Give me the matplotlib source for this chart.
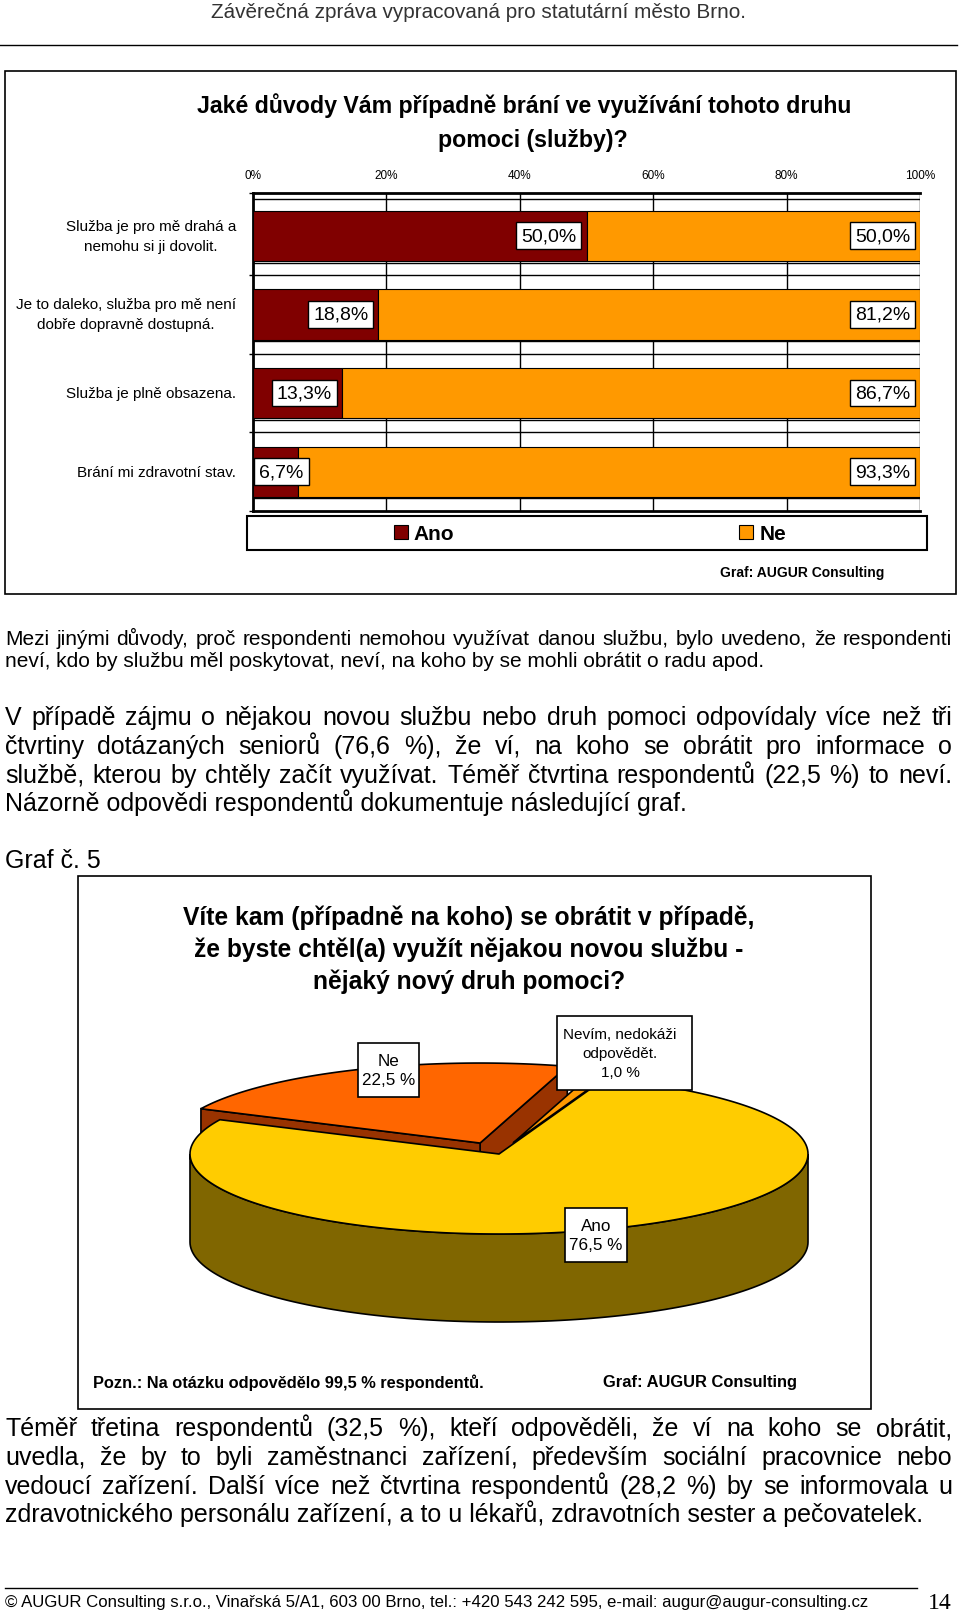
import matplotlib
matplotlib.use('Agg')  # no display, only the png

import numpy as np
import matplotlib.pyplot as plt
from matplotlib import font_manager
from matplotlib.patches import Rectangle, Polygon

installed = {f.name for f in font_manager.fontManager.ttflist}
SANS = 'Liberation Sans'
NARROW = 'Liberation Sans Narrow' if 'Liberation Sans Narrow' in installed else SANS
SERIF = 'Liberation Serif'
plt.rcParams['font.family'] = SANS

# ---- chart 1: reasons (stacked bars) ----
reasons = ["Služba je pro mě drahá a\nnemohu si ji dovolit.",
           "Je to daleko, služba pro mě není\ndobře dopravně dostupná.",
           "Služba je plně obsazena.",
           "Brání mi zdravotní stav."]
ano = [50.0, 18.8, 13.3, 6.7]
ne = [50.0, 81.2, 86.7, 93.3]
pct_ticks = [0, 20, 40, 60, 80, 100]
series = ["Ano", "Ne"]

# ---- chart 2: 3D pie (counter-clockwise order from the 70 deg cut) ----
pie_labels = ["Nevím, nedokáži\nodpovědět.", "Ne", "Ano"]
pie_values = [1.0, 22.5, 76.5]

# ---- page text ----
header = "Závěrečná zpráva vypracovaná pro statutární město Brno."
title1 = ["Jaké důvody Vám případně brání ve využívání tohoto druhu", "pomoci (služby)?"]
title2 = ["Víte kam (případně na koho) se obrátit v případě,",
          "že byste chtěl(a) využít nějakou novou službu -",
          "nějaký nový druh pomoci?"]
para1 = ["Mezi jinými důvody, proč respondenti nemohou využívat danou službu, bylo uvedeno, že respondenti",
         "neví, kdo by službu měl poskytovat, neví, na koho by se mohli obrátit o radu apod."]
para2 = ["V případě zájmu o nějakou novou službu nebo druh pomoci odpovídaly více než tři",
         "čtvrtiny dotázaných seniorů (76,6 %), že ví, na koho se obrátit pro informace o",
         "službě, kterou by chtěly začít využívat. Téměř čtvrtina respondentů (22,5 %) to neví.",
         "Názorně odpovědi respondentů dokumentuje následující graf."]
para3 = ["Téměř třetina respondentů (32,5 %), kteří odpověděli, že ví na koho se obrátit,",
         "uvedla, že by to byli zaměstnanci zařízení, především sociální pracovnice nebo",
         "vedoucí zařízení. Další více než čtvrtina respondentů (28,2 %) by se informovala u",
         "zdravotnického personálu zařízení, a to u lékařů, zdravotních sester a pečovatelek."]
note = "Pozn.: Na otázku odpovědělo 99,5 % respondentů."
source = "Graf: AUGUR Consulting"
footer = "© AUGUR Consulting s.r.o., Vinařská 5/A1, 603 00 Brno, tel.: +420 543 242 595, e-mail: augur@augur-consulting.cz"
page_no = "14"

# colours
ANO_C, NE_C = '#800000', '#FF9900'
pie_top = ['#FF9900', '#FF6600', '#FFCC00']
pie_side = ['#805000', '#993300', '#806600']
pie_explode = [0.15, 0.15, 0.0]

W, H = 960, 1615
fig = plt.figure(figsize=(W / 100, H / 100), dpi=100)
page = fig.add_axes([0, 0, 1, 1])
page.set_xlim(0, W)
page.set_ylim(H, 0)
page.axis('off')
renderer = fig.canvas.get_renderer()


def width_of(t):
    return t.get_window_extent(renderer=renderer).width


def fitted(x, y, s, width, ha='center', **kw):
    # scale font so the line gets the measured width
    t = page.text(x, y, s, fontsize=10, ha=ha, va='center', **kw)
    t.set_fontsize(10 * width / width_of(t))
    return t.get_fontsize()


def paragraph(lines, y0, step, size, x0=5, x1=952):
    # words sit on a common baseline, all lines but the last are justified
    shift = 0.33 * size * 100 / 72
    for k, line in enumerate(lines):
        y = y0 + k * step + shift
        if k == len(lines) - 1:
            page.text(x0, y, line, fontsize=size, va='baseline')
            continue
        words = line.split(' ')
        ts = [page.text(x0, y, w, fontsize=size, va='baseline') for w in words]
        ws = [width_of(t) for t in ts]
        gap = (x1 - x0 - sum(ws)) / (len(ws) - 1)
        x = x0
        for t, w in zip(ts, ws):
            t.set_x(x)
            x += w + gap


# header / footer
fitted(478, 13, header, 538, color='#333333')
page.plot([0, 957], [46, 46], color='black', lw=1)
page.plot([5, 917], [1589, 1589], color='black', lw=1)
fitted(5, 1603, footer, 862, ha='left')
page.text(940, 1604, page_no, fontsize=17, family=SERIF, ha='center', va='center')

# ---------------- chart 1 ----------------
page.add_patch(Rectangle((5, 72), 951, 523, fill=False, ec='black', lw=1.2))
s1 = fitted(524, 106, title1[0], 657, family=NARROW, weight='bold')
page.text(533, 141, title1[1], fontsize=s1, family=NARROW, weight='bold',
          ha='center', va='center')

axb = fig.add_axes([253 / W, 1 - 512 / H, 667 / W, 318 / H])
yy = np.arange(len(reasons))
axb.barh(yy, ano, height=0.64, color=ANO_C, edgecolor='black', lw=0.8, zorder=3)
axb.barh(yy, ne, left=ano, height=0.64, color=NE_C, edgecolor='black', lw=0.8, zorder=3)
axb.set_xlim(0, 100)
axb.set_ylim(3.5, -0.545)
axb.vlines(pct_ticks[1:], -0.545, 3.5, color='black', lw=1, zorder=1)
axb.hlines([-0.47, 0.34, 0.5, 1.34, 1.5, 2.34, 2.5, 3.34], 0, 100, color='black', lw=1, zorder=1)
for side in ['top', 'bottom', 'left']:
    axb.spines[side].set_linewidth(2)
axb.spines['right'].set_visible(False)
axb.xaxis.tick_top()
axb.set_xticks(pct_ticks)
axb.set_xticklabels([f"{v}%" for v in pct_ticks], fontsize=8.5)
axb.tick_params(axis='x', length=0, pad=8.5)
axb.set_yticks([-0.545, 0.5, 1.5, 2.5, 3.5])
axb.set_yticklabels([])
axb.tick_params(axis='y', direction='out', length=3, width=1)

box = dict(boxstyle='square,pad=0.25', fc='white', ec='black', lw=1)
for i, (a, n) in enumerate(zip(ano, ne)):
    axb.text(-2.55, i, reasons[i], ha='right', va='center', multialignment='center',
             fontsize=11, linespacing=1.55)
    axb.text(max(a - 1.5, 7.6), i, f"{a:.1f}%".replace('.', ','), ha='right', va='center',
             fontsize=14, bbox=box, zorder=5)
    axb.text(98.5, i, f"{n:.1f}%".replace('.', ','), ha='right', va='center',
             fontsize=14, bbox=box, zorder=5)

page.add_patch(Rectangle((247, 517), 680, 34, fill=False, ec='black', lw=1.5))
leg_size = 17 if NARROW != SANS else 15
handles = [Rectangle((0, 0), 1, 1, fc=c, ec='black', lw=0.8) for c in (ANO_C, NE_C)]
fig.legend(handles, series, loc='center', bbox_to_anchor=(590 / W, 1 - 535 / H), ncol=2,
           frameon=False, handlelength=0.65, handleheight=0.65, handletextpad=0.3,
           columnspacing=285 / (leg_size * 100 / 72),
           prop=dict(family=NARROW, weight='bold', size=leg_size))
fitted(720, 573, source, 165, ha='left', weight='bold')

# ---------------- body text ----------------
paragraph(para1, 638, 22.5, 15)
paragraph(para2, 717, 28.7, 18)
page.text(5, 861, "Graf č. 5", fontsize=18, va='center')
paragraph(para3, 1428, 28.7, 18)

# ---------------- chart 2: 3D pie ----------------
page.add_patch(Rectangle((78, 877), 793, 533, fill=False, ec='black', lw=1.2))
s2 = fitted(469, 918, title2[0], 572, weight='bold')
for k, line in enumerate(title2[1:], start=1):
    page.text(469, 918 + 32 * k, line, fontsize=s2, weight='bold', ha='center', va='center')

CX, CY, RA, RB, DEPTH = 499, 1155, 309, 80, 88


def ell(t, ox=0.0, oy=0.0, z=0.0):
    t = np.radians(np.atleast_1d(t))
    return np.column_stack([CX + ox + RA * np.cos(t), CY + oy - RB * np.sin(t) + z])


cuts = 70 + np.concatenate([[0], np.cumsum(pie_values)]) * 3.6


def draw_slice(i):
    t1, t2 = cuts[i], cuts[i + 1]
    mid = np.radians((t1 + t2) / 2)
    ox = pie_explode[i] * RA * np.cos(mid)
    oy = -pie_explode[i] * RB * np.sin(mid)
    c = np.array([CX + ox, CY + oy])
    # radial cut faces that look towards the viewer
    for t, nrm in ((t1, t1 - 90), (t2, t2 + 90)):
        if np.sin(np.radians(nrm)) < 0:
            p = ell(t, ox, oy)[0]
            face = [c, p, p + [0, DEPTH], c + [0, DEPTH]]
            page.add_patch(Polygon(face, closed=True, fc=pie_side[i], ec='black', lw=1.2))
    # front part of the outer wall
    for lo, hi in ((180, 360), (540, 720)):
        a, b = max(t1, lo), min(t2, hi)
        if b > a:
            ts = np.linspace(a, b, 120)
            wall = np.vstack([ell(ts, ox, oy), ell(ts[::-1], ox, oy, DEPTH)])
            page.add_patch(Polygon(wall, closed=True, fc=pie_side[i], ec='black', lw=1.2))
    ts = np.linspace(t1, t2, 240)
    page.add_patch(Polygon(np.vstack([c, ell(ts, ox, oy)]), closed=True,
                           fc=pie_top[i], ec='black', lw=1.2))


for i in [1, 0, 2]:  # back to front
    draw_slice(i)

# data labels
label_boxes = [(557, 1017, 135, 74), (358, 1044, 61, 54), (565, 1209, 62, 54)]
label_x = [620, 388.5, 596]
label_size = [11, 12.3, 12.3]
for i, (bx, by, bw, bh) in enumerate(label_boxes):
    page.add_patch(Rectangle((bx, by), bw, bh, fc='white', ec='black', lw=1.2, zorder=4))
    txt = pie_labels[i] + "\n" + f"{pie_values[i]:.1f} %".replace('.', ',')
    page.text(label_x[i], by + bh / 2, txt, fontsize=label_size[i], ha='center', va='center',
              linespacing=22 / (label_size[i] * 100 / 72), zorder=5)

fitted(93, 1383, note, 392, ha='left', weight='bold')
fitted(603, 1383, source, 195, ha='left', weight='bold')

fig.savefig("out.png", dpi=100)
